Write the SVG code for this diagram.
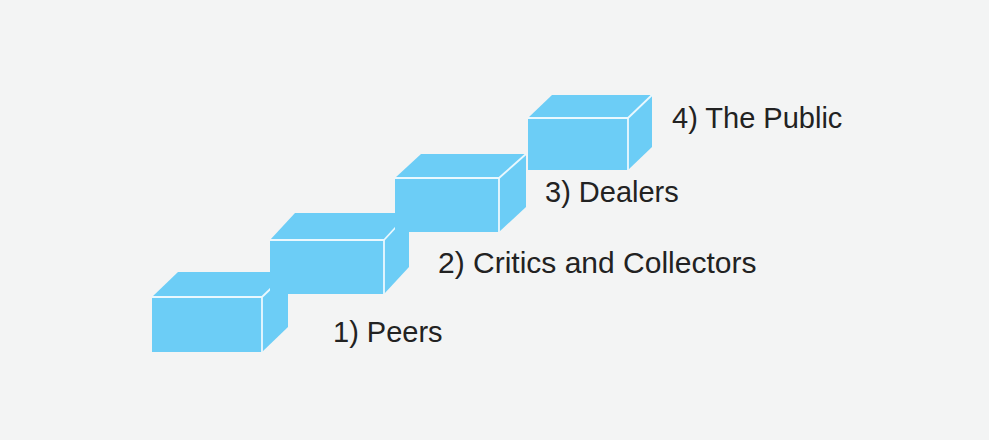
<svg xmlns="http://www.w3.org/2000/svg" width="989" height="440" viewBox="0 0 989 440">
<style>
.face{fill:#6ccdf6;stroke:none}
.edge{fill:none;stroke:#eaf8fe;stroke-width:1.8;stroke-linejoin:round}
.lbl{font-family:"Liberation Sans",Arial,sans-serif;font-size:29px;fill:#222}
</style>
<rect width="989" height="440" fill="#f3f4f4"/>
<g id="step1">
<polygon class="face" points="152,352 152,297 178,272 288,272 288,327 262,352"/>
<polyline class="edge" points="152,297 262,297 262,352"/>
<line class="edge" x1="262" y1="297" x2="288" y2="272"/>
</g>
<g id="step2">
<polygon class="face" points="270,294 270,240 295,213 409,213 409,267 384,294"/>
<polyline class="edge" points="270,240 384,240 384,294"/>
<line class="edge" x1="384" y1="240" x2="409" y2="213"/>
</g>
<g id="step3">
<polygon class="face" points="395,232 395,178 421,154 526,154 526,207 499,232"/>
<polyline class="edge" points="395,178 499,178 499,232"/>
<line class="edge" x1="499" y1="178" x2="526" y2="154"/>
</g>
<g id="step4">
<polygon class="face" points="528,170 528,118 552,95 652,95 652,147 628,170"/>
<polyline class="edge" points="528,118 628,118 628,170"/>
<line class="edge" x1="628" y1="118" x2="652" y2="95"/>
</g>
<g id="labels">
<text class="lbl" x="333" y="342">1) Peers</text>
<text class="lbl" x="438" y="273" style="font-size:30px">2) Critics and Collectors</text>
<text class="lbl" x="545" y="202">3) Dealers</text>
<text class="lbl" x="672" y="128">4) The Public</text>
</g>
</svg>
